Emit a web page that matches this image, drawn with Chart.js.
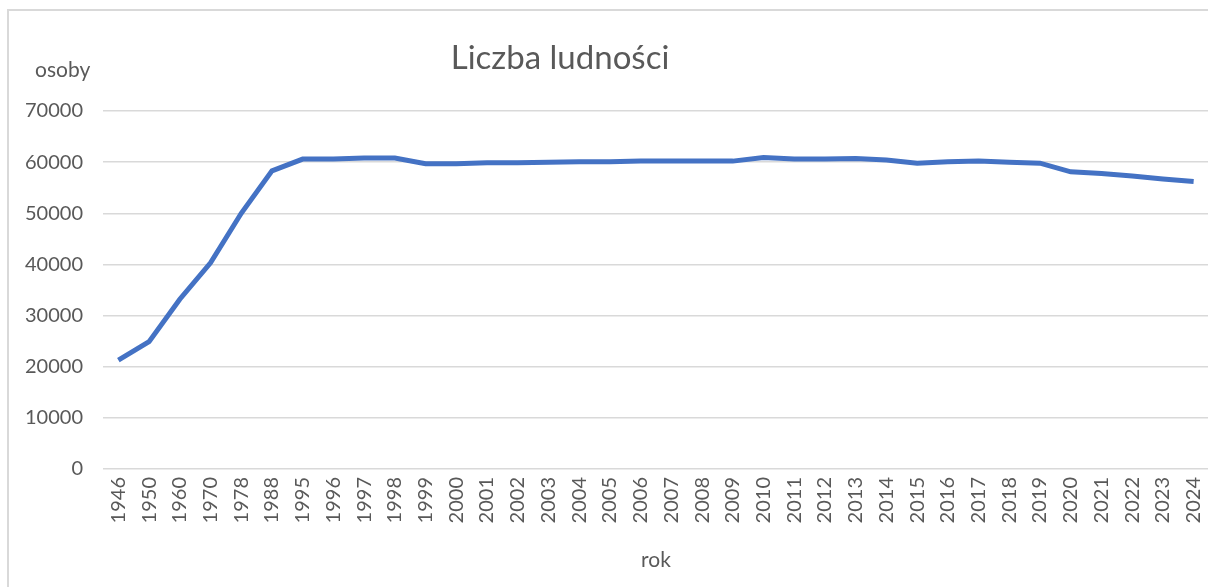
<!DOCTYPE html>
<html>
<head>
<meta charset="utf-8">
<script src="https://cdn.jsdelivr.net/npm/chart.js@4/dist/chart.umd.min.js"></script>
<style>
  html, body { margin: 0; padding: 0; background: #fff; overflow: hidden; }
  #frame { position: absolute; left: 7px; top: 9px; width: 1210px; height: 590px;
           border-left: 2px solid #d9d9d9; border-top: 2px solid #d9d9d9; }
  #chart { position: absolute; left: -1px; top: -1px; }
</style>
</head>
<body>
<div id="frame"><canvas id="chart" width="1204" height="577"></canvas></div>
<script>
// data
const years = ['1946','1950','1960','1970','1978','1988','1995','1996','1997','1998','1999',
  '2000','2001','2002','2003','2004','2005','2006','2007','2008','2009','2010','2011','2012',
  '2013','2014','2015','2016','2017','2018','2019','2020','2021','2022','2023','2024'];
const population = [21300, 24900, 33200, 40300, 50000, 58300, 60600, 60600, 60800, 60800, 59700,
  59700, 59900, 59900, 60000, 60100, 60100, 60200, 60200, 60200, 60200, 60900, 60600, 60600,
  60700, 60400, 59800, 60100, 60200, 60000, 59800, 58100, 57800, 57300, 56700, 56200];
const yTicks = [0, 10000, 20000, 30000, 40000, 50000, 60000, 70000];

const textColor = '#595959';
const fontName = 'Lato, "Open Sans", sans-serif';

// title + 'osoby' drawn by hand (excel puts them off-center)
const labelsPlugin = {
  id: 'labelsPlugin',
  afterDraw(chart) {
    const c = chart.ctx;
    c.save();
    c.fillStyle = textColor;
    c.textBaseline = 'middle';
    c.textAlign = 'center';
    c.font = '33px ' + fontName;
    c.fillText('Liczba ludności', 552, 48);
    c.textAlign = 'left';
    c.font = '21px ' + fontName;
    c.fillText('osoby', 27, 60);
    c.restore();
  }
};

const ctx = document.getElementById('chart').getContext('2d');
new Chart(ctx, {
  type: 'line',
  data: {
    labels: years,
    datasets: [{
      data: population,
      borderColor: '#4472C4',
      borderWidth: 5,
      pointRadius: 0,
      tension: 0,
      fill: false
    }]
  },
  options: {
    responsive: false,
    animation: false,
    layout: { padding: { top: 101, right: 3, left: 0, bottom: 0 } },
    plugins: { legend: { display: false }, title: { display: false }, tooltip: { enabled: false } },
    scales: {
      x: {
        offset: true,
        grid: { display: false, drawTicks: false },
        border: { display: false },
        ticks: { color: textColor, font: { family: fontName, size: 20 }, minRotation: 90, maxRotation: 90,
                 autoSkip: false, padding: 8 },
        title: { display: true, text: 'rok', color: textColor, font: { family: fontName, size: 21 },
                 padding: { top: 0, bottom: 14 } },
        afterFit(scale) { scale.height = 118; scale.paddingLeft = 0; scale.paddingRight = 0; }
      },
      y: {
        min: 0, max: 70000,
        afterBuildTicks(scale) { scale.ticks = yTicks.map(v => ({ value: v })); },
        grid: { color: '#d9d9d9', lineWidth: 1.5, drawTicks: false },
        border: { display: false },
        ticks: { color: textColor, font: { family: fontName, size: 20 }, padding: 20,
                 callback: v => String(v) },
        afterFit(scale) { scale.width = 95; }
      }
    }
  },
  plugins: [labelsPlugin]
});
</script>
</body>
</html>
